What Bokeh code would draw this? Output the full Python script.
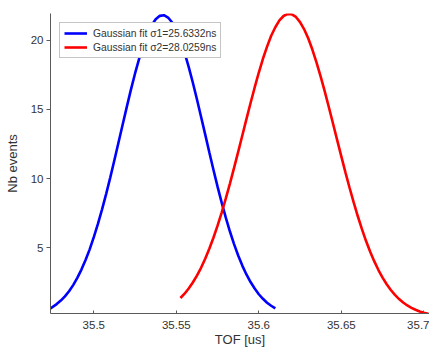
from bokeh.plotting import figure
from bokeh.models import FixedTicker, Range1d, Legend, LegendItem
from bokeh.embed import file_html
from bokeh.resources import INLINE

# Blue curve: Gaussian fit sigma1
tof_blue = [35.4735, 35.4775, 35.48, 35.4825, 35.485, 35.4875, 35.49, 35.4925, 35.495, 35.4975,
            35.5, 35.5025, 35.505, 35.5075, 35.51, 35.5125, 35.515, 35.5175, 35.52, 35.5225,
            35.525, 35.5275, 35.53, 35.5325, 35.535, 35.5375, 35.54, 35.5425, 35.545, 35.5475,
            35.55, 35.5525, 35.555, 35.5575, 35.56, 35.5625, 35.565, 35.5675, 35.57, 35.5725,
            35.575, 35.5775, 35.58, 35.5825, 35.585, 35.5875, 35.59, 35.5925, 35.595, 35.5975,
            35.6, 35.6025, 35.605, 35.6075, 35.61]
nb_blue = [0.60, 0.94, 1.19, 1.50, 1.87, 2.31, 2.83, 3.43, 4.12, 4.89,
           5.77, 6.73, 7.78, 8.90, 10.09, 11.34, 12.62, 13.91, 15.18, 16.42,
           17.59, 18.66, 19.61, 20.41, 21.05, 21.50, 21.75, 21.80, 21.63, 21.27,
           20.71, 19.98, 19.09, 18.07, 16.94, 15.73, 14.47, 13.19, 11.90, 10.64,
           9.42, 8.26, 7.18, 6.18, 5.27, 4.45, 3.72, 3.08, 2.53, 2.06,
           1.65, 1.32, 1.04, 0.82, 0.63]

# Red curve: Gaussian fit sigma2
tof_red = [35.5525, 35.555, 35.5575, 35.56, 35.5625, 35.565, 35.5675, 35.57, 35.5725, 35.575,
           35.5775, 35.58, 35.5825, 35.585, 35.5875, 35.59, 35.5925, 35.595, 35.5975, 35.6,
           35.6025, 35.605, 35.6075, 35.61, 35.6125, 35.615, 35.6175, 35.62, 35.6225, 35.625,
           35.6275, 35.63, 35.6325, 35.635, 35.6375, 35.64, 35.6425, 35.645, 35.6475, 35.65,
           35.6525, 35.655, 35.6575, 35.66, 35.6625, 35.665, 35.6675, 35.67, 35.6725, 35.675,
           35.6775, 35.68, 35.6825, 35.685, 35.6875, 35.69, 35.6925, 35.695, 35.6975, 35.7,
           35.7025, 35.705]
nb_red = [1.38, 1.69, 2.07, 2.50, 3.00, 3.56, 4.21, 4.93, 5.73, 6.60,
          7.55, 8.57, 9.64, 10.77, 11.93, 13.11, 14.29, 15.46, 16.58, 17.66,
          18.65, 19.53, 20.31, 20.93, 21.42, 21.74, 21.89, 21.86, 21.67, 21.30,
          20.78, 20.11, 19.30, 18.38, 17.36, 16.28, 15.13, 13.96, 12.78, 11.60,
          10.45, 9.34, 8.28, 7.28, 6.35, 5.49, 4.72, 4.02, 3.40, 2.85,
          2.37, 1.96, 1.60, 1.30, 1.05, 0.84, 0.67, 0.53, 0.41, 0.32,
          0.24, 0.19]

x_ticks = [35.5, 35.55, 35.6, 35.65, 35.7]
x_tick_labels = ["35.5", "35.55", "35.6", "35.65", "35.7"]
y_ticks = [5, 10, 15, 20]
legend_labels = ["Gaussian fit \u03c31=25.6332ns", "Gaussian fit \u03c32=28.0259ns"]

FONT = "Liberation Sans"
TXT = "#333333"
AX = "#5a5a5a"

p = figure(width=429, height=349, output_backend="svg", toolbar_location=None,
           x_range=Range1d(35.47376, 35.70345), y_range=Range1d(0.26, 21.92),
           min_border_left=50, min_border_right=0, min_border_top=13, min_border_bottom=36)
p.outline_line_color = None
p.background_fill_color = "white"
p.border_fill_color = "white"
p.xgrid.visible = False
p.ygrid.visible = False

rb = p.line(tof_blue, nb_blue, line_color="#0000ff", line_width=2.6)
rr = p.line(tof_red, nb_red, line_color="#ff0000", line_width=2.6)

# x axis
xa = p.xaxis[0]
xa.ticker = FixedTicker(ticks=x_ticks)
xa.major_label_overrides = {t: l for t, l in zip(x_ticks, x_tick_labels)}
xa.minor_tick_line_color = None
xa.major_tick_in = 3
xa.major_tick_out = 0
xa.major_label_standoff = 7
xa.axis_label = "TOF [us]"
xa.axis_label_standoff = 0
xa.axis_label_text_font = FONT
xa.axis_label_text_font_style = "normal"
xa.axis_label_text_font_size = "13px"
xa.axis_label_text_color = TXT
xa.major_label_text_font = FONT
xa.major_label_text_font_size = "11.5px"
xa.major_label_text_color = TXT
xa.axis_line_color = AX
xa.major_tick_line_color = AX

# y axis
ya = p.yaxis[0]
ya.ticker = FixedTicker(ticks=y_ticks)
ya.minor_tick_line_color = None
ya.major_tick_in = 0
ya.major_tick_out = 4
ya.major_label_standoff = 3
ya.axis_label = "Nb events"
ya.axis_label_standoff = 8
ya.axis_label_text_font = FONT
ya.axis_label_text_font_style = "normal"
ya.axis_label_text_font_size = "13px"
ya.axis_label_text_color = TXT
ya.major_label_text_font = FONT
ya.major_label_text_font_size = "11.5px"
ya.major_label_text_color = TXT
ya.axis_line_color = AX
ya.major_tick_line_color = AX

legend = Legend(items=[LegendItem(label=legend_labels[0], renderers=[rb]),
                       LegendItem(label=legend_labels[1], renderers=[rr])],
                location="top_left", margin=9, padding=4, spacing=2,
                glyph_width=23, glyph_height=12, label_height=12, label_standoff=6,
                label_text_font=FONT, label_text_font_size="10.3px",
                label_text_color=TXT, border_line_color="#8c8c8c", border_line_width=1,
                background_fill_color="white", background_fill_alpha=1.0)
p.add_layout(legend)

open("out.html", "w").write(file_html(p, INLINE))
